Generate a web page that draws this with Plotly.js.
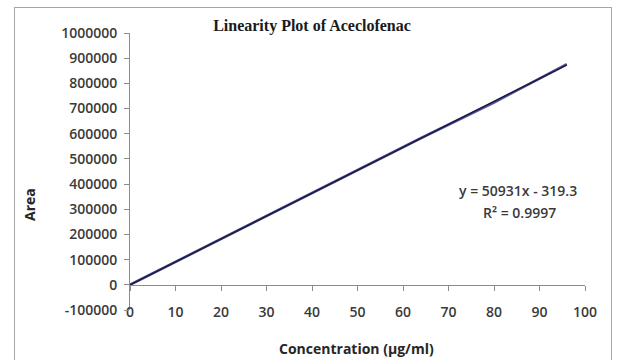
<!DOCTYPE html>
<html>
<head>
<meta charset="utf-8">
<script src="https://cdn.plot.ly/plotly-3.0.1.min.js"></script>
<style>
  html, body { margin: 0; padding: 0; background: #ffffff; }
  #frame { position: absolute; left: 14px; top: 7px; width: 598px; height: 400px; border: 1px solid #a6a6a6; box-sizing: border-box; }
  #chart { position: absolute; left: 0; top: 0; width: 621px; height: 360px; }
</style>
</head>
<body>
<div id="frame"></div>
<div id="chart"></div>
<script>
// Data
const concentration = [0, 16, 32, 48, 64, 80, 96];
const area = [0, 146000, 291000, 437000, 583000, 724000, 876000];
const xTicks = [0, 10, 20, 30, 40, 50, 60, 70, 80, 90, 100];
const yTicks = [-100000, 0, 100000, 200000, 300000, 400000, 500000, 600000, 700000, 800000, 900000, 1000000];
const titleText = "Linearity Plot of Aceclofenac";
const xTitle = "Concentration (µg/ml)";
const yTitle = "Area";
const equationText = "y = 50931x - 319.3";
const r2Text = "R² = 0.9997";

// Linear trendline (least squares) over the data
const n = concentration.length;
const mx = concentration.reduce((a, b) => a + b, 0) / n;
const my = area.reduce((a, b) => a + b, 0) / n;
let sxy = 0, sxx = 0;
for (let i = 0; i < n; i++) { sxy += (concentration[i] - mx) * (area[i] - my); sxx += (concentration[i] - mx) ** 2; }
const slope = sxy / sxx, intercept = my - slope * mx;
const trendX = [concentration[0], concentration[n - 1]];
const trendY = trendX.map(x => slope * x + intercept);

const tickFont = { family: "Open Sans, sans-serif", size: 14, weight: 600, color: "#3a3a3a" };
const axisColor = "#8c8c8c";

const data = [
  { x: concentration, y: area, type: "scatter", mode: "lines",
    line: { color: "#5656a8", width: 2.6 }, hoverinfo: "skip" },
  { x: trendX, y: trendY, type: "scatter", mode: "lines",
    line: { color: "#1c1c3c", width: 1.6 }, hoverinfo: "skip" }
];

const layout = {
  width: 621, height: 360,
  margin: { l: 130, r: 36, t: 33, b: 50 },
  paper_bgcolor: "rgba(0,0,0,0)", plot_bgcolor: "rgba(0,0,0,0)",
  showlegend: false,
  title: { text: "<b>" + titleText + "</b>", font: { family: "Liberation Serif, serif", size: 16, color: "#1a1a1a" },
           xref: "container", x: 312 / 621, xanchor: "center", yref: "container", y: 1 - 25 / 360, yanchor: "middle" },
  xaxis: {
    range: [0, 100], tickvals: xTicks, ticktext: xTicks.map(String),
    showgrid: false, zeroline: false, showline: true, linecolor: axisColor, linewidth: 1,
    ticks: "outside", ticklen: 5, tickcolor: axisColor, tickfont: tickFont,
    anchor: "free", position: 1 / 11, ticklabelstandoff: 9
  },
  yaxis: {
    range: [-100000, 1000000], tickvals: yTicks, ticktext: yTicks.map(String),
    showgrid: false, zeroline: false, showline: true, linecolor: axisColor, linewidth: 1,
    ticks: "outside", ticklen: 5, tickcolor: axisColor, tickfont: tickFont, ticklabelstandoff: 4
  },
  annotations: [
    { text: equationText, xref: "paper", yref: "paper", x: (518 - 130) / 455, y: (310 - 190) / 277,
      showarrow: false, xanchor: "center", yanchor: "middle", font: { family: "Open Sans, sans-serif", size: 14, weight: 600, color: "#3a3a3a" } },
    { text: r2Text, xref: "paper", yref: "paper", x: (519 - 130) / 455, y: (310 - 212) / 277,
      showarrow: false, xanchor: "center", yanchor: "middle", font: { family: "Open Sans, sans-serif", size: 14, weight: 600, color: "#3a3a3a" } },
    { text: "<b>" + xTitle + "</b>", xref: "paper", yref: "paper", x: (356 - 130) / 455, y: (310 - 348) / 277,
      showarrow: false, xanchor: "center", yanchor: "middle", font: { family: "Open Sans, sans-serif", size: 14, color: "#262626" } },
    { text: "<b>" + yTitle + "</b>", xref: "paper", yref: "paper", x: (30 - 130) / 455, y: (310 - 205) / 277,
      textangle: -90, showarrow: false, xanchor: "center", yanchor: "middle", font: { family: "Open Sans, sans-serif", size: 14, color: "#262626" } }
  ]
};

Plotly.newPlot("chart", data, layout, { staticPlot: true, displayModeBar: false });
</script>
</body>
</html>
